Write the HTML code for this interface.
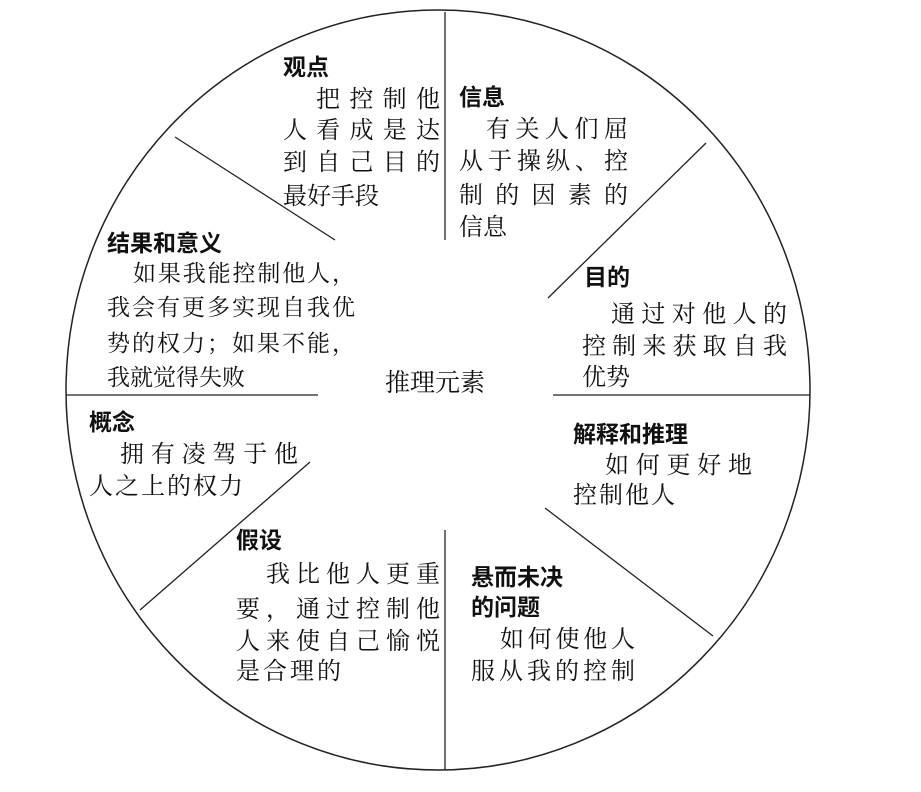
<!DOCTYPE html>
<html><head><meta charset="utf-8"><style>
html,body{margin:0;padding:0;background:#fff;}
#c{position:relative;width:921px;height:792px;overflow:hidden;background:#fff;}
svg{position:absolute;left:0;top:0;}
.l{position:absolute;height:32px;line-height:32px;font-size:24px;white-space:nowrap;color:#111;
font-family:"Liberation Serif","Noto Serif CJK SC",serif;text-align:justify;text-align-last:justify;}
.h{font-family:"Liberation Sans","Noto Sans CJK SC",sans-serif;font-weight:bold;font-size:23px;text-align:left;text-align-last:left;}
.s{text-align:left;text-align-last:left;}
</style></head><body><div id="c">
<svg width="921" height="792">
<ellipse cx="438" cy="390" rx="372" ry="380" fill="none" stroke="#222" stroke-width="1.5"/>
<g stroke="#222" stroke-width="1.3">
<line x1="445" y1="12" x2="445" y2="240"/>
<line x1="706" y1="143" x2="548" y2="298"/>
<line x1="553" y1="395" x2="810" y2="395"/>
<line x1="545" y1="508" x2="713" y2="636"/>
<line x1="445" y1="530" x2="445" y2="770"/>
<line x1="140" y1="610" x2="310" y2="462"/>
<line x1="66" y1="395" x2="318" y2="395"/>
<line x1="175" y1="137" x2="335" y2="240"/>
</g>
</svg>
<div class="l h" style="left:283px;top:51px">观点</div>
<div class="l" style="left:316px;top:84px;width:124px">把控制他</div>
<div class="l" style="left:283px;top:115px;width:157px">人看成是达</div>
<div class="l" style="left:283px;top:147px;width:157px">到自己目的</div>
<div class="l s" style="left:283px;top:181px">最好手段</div>

<div class="l h" style="left:459px;top:81px">信息</div>
<div class="l" style="left:486px;top:114px;width:142px">有关人们屈</div>
<div class="l" style="left:459px;top:146px;width:169px">从于操纵、控</div>
<div class="l" style="left:459px;top:180px;width:169px">制的因素的</div>
<div class="l s" style="left:459px;top:212px">信息</div>

<div class="l h" style="left:584px;top:261px">目的</div>
<div class="l" style="left:611px;top:299px;width:176px">通过对他人的</div>
<div class="l" style="left:582px;top:331px;width:205px">控制来获取自我</div>
<div class="l s" style="left:582px;top:362px">优势</div>

<div class="l h" style="left:107px;top:227px">结果和意义</div>
<div class="l" style="left:133px;top:258px;width:222px;font-size:23px">如果我能控制他人，</div>
<div class="l" style="left:107px;top:292px;width:248px;font-size:23px">我会有更多实现自我优</div>
<div class="l" style="left:107px;top:328px;width:248px;font-size:23px">势的权力；如果不能，</div>
<div class="l s" style="left:107px;top:362px;font-size:23px">我就觉得失败</div>

<div class="l s" style="left:385px;top:368px;font-size:25px">推理元素</div>

<div class="l h" style="left:89px;top:406px">概念</div>
<div class="l" style="left:120px;top:439px;width:178px">拥有凌驾于他</div>
<div class="l s" style="left:89px;top:471px;letter-spacing:2px">人之上的权力</div>

<div class="l h" style="left:573px;top:418px">解释和推理</div>
<div class="l" style="left:605px;top:450px;width:147px">如何更好地</div>
<div class="l s" style="left:573px;top:480px;letter-spacing:2px">控制他人</div>

<div class="l h" style="left:236px;top:524px">假设</div>
<div class="l" style="left:266px;top:559px;width:174px">我比他人更重</div>
<div class="l" style="left:236px;top:594px;width:204px">要，通过控制他</div>
<div class="l" style="left:236px;top:626px;width:204px">人来使自己愉悦</div>
<div class="l s" style="left:236px;top:656px;letter-spacing:3px">是合理的</div>

<div class="l h" style="left:471px;top:561px">悬而未决</div>
<div class="l h" style="left:471px;top:591px">的问题</div>
<div class="l" style="left:500px;top:624px;width:135px">如何使他人</div>
<div class="l" style="left:471px;top:656px;width:164px">服从我的控制</div>
</div></body></html>
